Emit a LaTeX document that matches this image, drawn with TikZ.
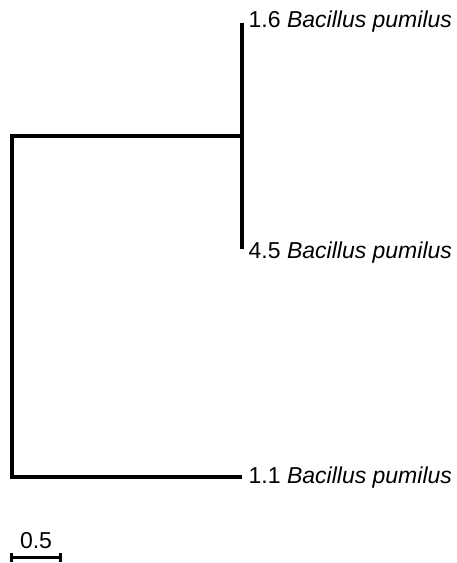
\documentclass[tikz,border=0pt]{standalone}
\usepackage{fontspec}
\setmainfont{Liberation Sans}
\begin{document}
\begin{tikzpicture}[x=1pt,y=1pt,
  branch/.style={line width=3.5pt, line join=miter, line cap=rect, black},
  leaf/.style={anchor=base west, inner sep=0pt, font=\fontsize{23}{26}\selectfont},
  scalelbl/.style={anchor=base, inner sep=0pt, font=\fontsize{23}{26}\selectfont}]
\useasboundingbox (0,0) rectangle (456,563);
% tree points
\coordinate (root) at (12,86);
\coordinate (rtop) at (12,427);
\coordinate (inner) at (242,427);
\coordinate (n16) at (242,540);
\coordinate (n45) at (242,314);
\coordinate (n11) at (240,86);
% branches
\draw[branch] (inner) -- (rtop) -- (root) -- (n11);
\draw[branch, line cap=butt] (n16) -- (n45);
% labels
\node[leaf] (l16) at (248.5,535) {1.6 \textit{Bacillus pumilus}};
\node[leaf] (l45) at (248.5,304) {4.5 \textit{Bacillus pumilus}};
\node[leaf] (l11) at (248.5,79.3) {1.1 \textit{Bacillus pumilus}};
% scale bar
\coordinate (sbl) at (11.5,5);
\coordinate (sbr) at (60.5,5);
\draw[line width=3pt] (sbl) -- (sbr);
\draw[line width=3pt] ([yshift=-4.5pt]sbl) -- ([yshift=4.5pt]sbl);
\draw[line width=3pt] ([yshift=-4.5pt]sbr) -- ([yshift=4.5pt]sbr);
\node[scalelbl] (sl) at (36,15) {0.5};
\end{tikzpicture}
\end{document}
